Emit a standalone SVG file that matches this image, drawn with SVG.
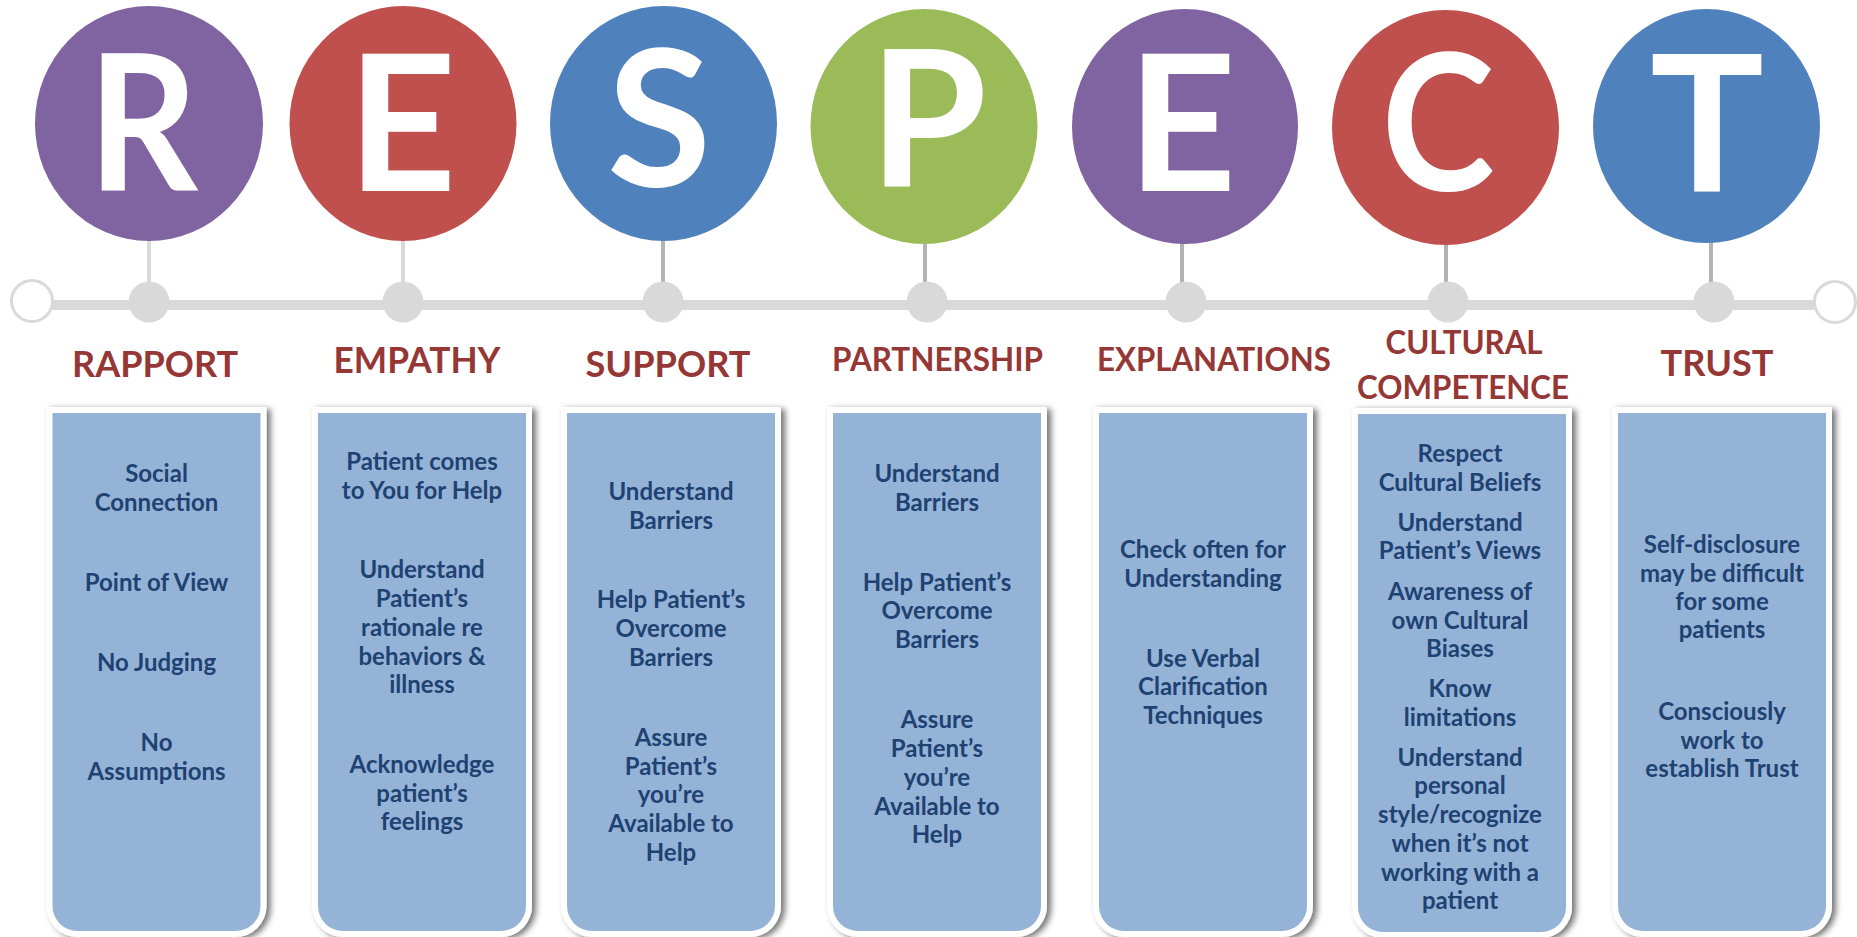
<svg xmlns="http://www.w3.org/2000/svg" width="1857" height="937" viewBox="0 0 1857 937">
<style>
.lt{font-family:Lato,"Open Sans","Liberation Sans",sans-serif;font-weight:700;font-size:190px;fill:#ffffff;text-anchor:middle}
.lb{font-family:Lato,"Open Sans","Liberation Sans",sans-serif;font-weight:700;font-size:37px;fill:#953735;text-anchor:middle}
.lbs{font-size:33px}
.bt{font-family:Lato,"Open Sans","Liberation Sans",sans-serif;font-weight:700;font-size:24px;fill:#1e4272;text-anchor:middle}
.dot{fill:#d9d9d9}
.stem{stroke-width:4}
</style>
<defs>
<filter id="sh" x="-10%" y="-5%" width="125%" height="115%">
<feDropShadow dx="4" dy="2" stdDeviation="3" flood-color="#000" flood-opacity="0.55"/>
</filter>
<path id="frame" d="M-6,-6 H214 V493 A31,31 0 0 1 183,524 H25 A31,31 0 0 1 -6,493 Z" fill="#ffffff" filter="url(#sh)"/>
<path id="fillp" d="M0,0 H208 V493 A25,25 0 0 1 183,518 H25 A25,25 0 0 1 0,493 Z" fill="#95b3d7"/>
</defs>
<rect width="1857" height="937" fill="#ffffff"/>

<g id="connectors">
<line x1="52" y1="305" x2="1814" y2="305" stroke="#d9d9d9" stroke-width="10"/>
<line class="stem" x1="149" y1="238" x2="149" y2="284" stroke="#d9d9d9"/>
<line class="stem" x1="403" y1="238" x2="403" y2="284" stroke="#d9d9d9"/>
<line class="stem" x1="663" y1="238" x2="663" y2="284" stroke="#b3b3b3"/>
<line class="stem" x1="925" y1="240" x2="925" y2="284" stroke="#b3b3b3"/>
<line class="stem" x1="1182" y1="240" x2="1182" y2="284" stroke="#b3b3b3"/>
<line class="stem" x1="1446" y1="242" x2="1446" y2="284" stroke="#b3b3b3"/>
<line class="stem" x1="1711" y1="240" x2="1711" y2="284" stroke="#b3b3b3"/>
<circle cx="32" cy="301" r="20.5" fill="#ffffff" stroke="#d9d9d9" stroke-width="3"/>
<circle cx="1835" cy="302" r="20.5" fill="#ffffff" stroke="#d9d9d9" stroke-width="3"/>
<circle class="dot" cx="149" cy="302" r="20.5"/>
<circle class="dot" cx="403" cy="302" r="20.5"/>
<circle class="dot" cx="663" cy="302" r="20.5"/>
<circle class="dot" cx="927" cy="302" r="20.5"/>
<circle class="dot" cx="1186" cy="302" r="20.5"/>
<circle class="dot" cx="1448" cy="302" r="20.5"/>
<circle class="dot" cx="1714" cy="302" r="20.5"/>
</g>

<g id="node-R">
<ellipse cx="149" cy="123.5" rx="114" ry="117.5" fill="#8064a2"/>
<text class="lt" transform="translate(143,191) scale(0.9,1)" x="0" y="0">R</text>
<text class="lb" x="155" y="377" textLength="166" lengthAdjust="spacingAndGlyphs">RAPPORT</text>
<use href="#frame" x="52.5" y="413"/><use href="#fillp" x="52.5" y="413"/>
<text class="bt" x="156.5" y="482">Social</text>
<text class="bt" x="156.5" y="511">Connection</text>
<text class="bt" x="156.5" y="591">Point of View</text>
<text class="bt" x="156.5" y="671">No Judging</text>
<text class="bt" x="156.5" y="751">No</text>
<text class="bt" x="156.5" y="780">Assumptions</text>
</g>

<g id="node-E">
<ellipse cx="403" cy="123.5" rx="113.5" ry="117.5" fill="#c0504d"/>
<text class="lt" x="402" y="191">E</text>
<text class="lb" x="417" y="373" textLength="167" lengthAdjust="spacingAndGlyphs">EMPATHY</text>
<use href="#frame" x="318" y="413"/><use href="#fillp" x="318" y="413"/>
<text class="bt" x="422" y="469.5">Patient comes</text>
<text class="bt" x="422" y="498.5">to You for Help</text>
<text class="bt" x="422" y="578">Understand</text>
<text class="bt" x="422" y="606.5">Patient’s</text>
<text class="bt" x="422" y="635.5">rationale re</text>
<text class="bt" x="422" y="664.5">behaviors &amp;</text>
<text class="bt" x="422" y="693">illness</text>
<text class="bt" x="422" y="772.5">Acknowledge</text>
<text class="bt" x="422" y="801.5">patient’s</text>
<text class="bt" x="422" y="830">feelings</text>
</g>

<g id="node-S">
<ellipse cx="663.5" cy="123.5" rx="113.5" ry="117.5" fill="#4f81bd"/>
<text class="lt" x="659" y="186">S</text>
<text class="lb" x="668" y="377" textLength="165" lengthAdjust="spacingAndGlyphs">SUPPORT</text>
<use href="#frame" x="567" y="413"/><use href="#fillp" x="567" y="413"/>
<text class="bt" x="671" y="499.5">Understand</text>
<text class="bt" x="671" y="528.5">Barriers</text>
<text class="bt" x="671" y="608">Help Patient’s</text>
<text class="bt" x="671" y="637">Overcome</text>
<text class="bt" x="671" y="665.5">Barriers</text>
<text class="bt" x="671" y="746">Assure</text>
<text class="bt" x="671" y="774.5">Patient’s</text>
<text class="bt" x="671" y="802.5">you’re</text>
<text class="bt" x="671" y="831.5">Available to</text>
<text class="bt" x="671" y="860.5">Help</text>
</g>

<g id="node-P">
<ellipse cx="924" cy="126.5" rx="113.5" ry="117.5" fill="#9bbb59"/>
<text class="lt" x="928" y="186">P</text>
<text class="lb lbs" x="937.5" y="371" textLength="211" lengthAdjust="spacingAndGlyphs">PARTNERSHIP</text>
<use href="#frame" x="833" y="413"/><use href="#fillp" x="833" y="413"/>
<text class="bt" x="937" y="482">Understand</text>
<text class="bt" x="937" y="510.5">Barriers</text>
<text class="bt" x="937" y="591">Help Patient’s</text>
<text class="bt" x="937" y="619">Overcome</text>
<text class="bt" x="937" y="647.5">Barriers</text>
<text class="bt" x="937" y="728">Assure</text>
<text class="bt" x="937" y="757">Patient’s</text>
<text class="bt" x="937" y="786">you’re</text>
<text class="bt" x="937" y="814.5">Available to</text>
<text class="bt" x="937" y="843">Help</text>
</g>

<g id="node-E2">
<ellipse cx="1185" cy="126.5" rx="113" ry="117.5" fill="#8064a2"/>
<text class="lt" x="1182" y="191">E</text>
<text class="lb lbs" x="1214" y="371" textLength="234" lengthAdjust="spacingAndGlyphs">EXPLANATIONS</text>
<use href="#frame" x="1099" y="413"/><use href="#fillp" x="1099" y="413"/>
<text class="bt" x="1203" y="558">Check often for</text>
<text class="bt" x="1203" y="586.5">Understanding</text>
<text class="bt" x="1203" y="666.5">Use Verbal</text>
<text class="bt" x="1203" y="695">Clarification</text>
<text class="bt" x="1203" y="723.5">Techniques</text>
</g>

<g id="node-C">
<ellipse cx="1445.5" cy="127.5" rx="113.5" ry="117.5" fill="#c0504d"/>
<text class="lt" transform="translate(1438,190) scale(0.9,1)" x="0" y="0">C</text>
<text class="lb lbs" x="1464" y="354" textLength="157" lengthAdjust="spacingAndGlyphs">CULTURAL</text>
<text class="lb lbs" x="1463" y="399" textLength="212" lengthAdjust="spacingAndGlyphs">COMPETENCE</text>
<use href="#frame" x="1358" y="414"/><use href="#fillp" x="1358" y="414"/>
<text class="bt" x="1460" y="462">Respect</text>
<text class="bt" x="1460" y="491">Cultural Beliefs</text>
<text class="bt" x="1460" y="531">Understand</text>
<text class="bt" x="1460" y="559">Patient’s Views</text>
<text class="bt" x="1460" y="600">Awareness of</text>
<text class="bt" x="1460" y="628.5">own Cultural</text>
<text class="bt" x="1460" y="657">Biases</text>
<text class="bt" x="1460" y="697">Know</text>
<text class="bt" x="1460" y="725.5">limitations</text>
<text class="bt" x="1460" y="766">Understand</text>
<text class="bt" x="1460" y="794">personal</text>
<text class="bt" x="1460" y="823">style/recognize</text>
<text class="bt" x="1460" y="851.5">when it’s not</text>
<text class="bt" x="1460" y="880.5">working with a</text>
<text class="bt" x="1460" y="908.5">patient</text>
</g>

<g id="node-T">
<ellipse cx="1706.5" cy="126" rx="113.5" ry="117" fill="#4f81bd"/>
<text class="lt" x="1707" y="191">T</text>
<text class="lb" x="1717" y="376" textLength="113" lengthAdjust="spacingAndGlyphs">TRUST</text>
<use href="#frame" x="1618" y="413"/><use href="#fillp" x="1618" y="413"/>
<text class="bt" x="1722" y="553">Self-disclosure</text>
<text class="bt" x="1722" y="581.5">may be difficult</text>
<text class="bt" x="1722" y="610">for some</text>
<text class="bt" x="1722" y="638">patients</text>
<text class="bt" x="1722" y="720">Consciously</text>
<text class="bt" x="1722" y="748.5">work to</text>
<text class="bt" x="1722" y="777">establish Trust</text>
</g>
</svg>
